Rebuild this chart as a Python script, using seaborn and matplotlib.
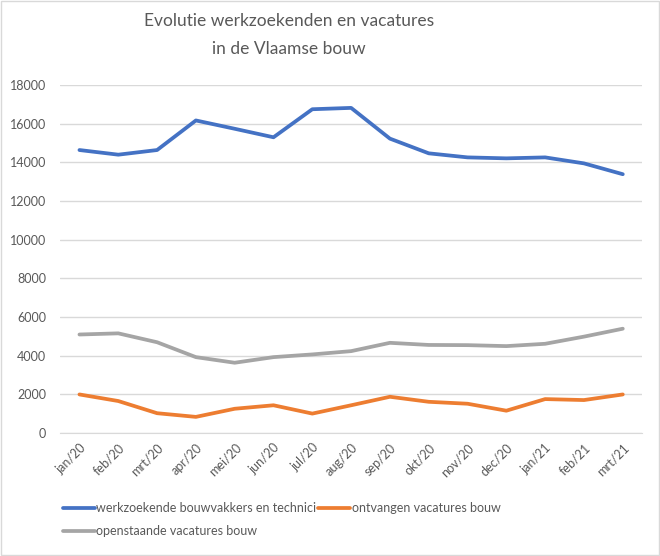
import matplotlib
matplotlib.use("Agg")
import matplotlib.pyplot as plt
import seaborn as sns
import pandas as pd
from matplotlib.patches import Rectangle
from matplotlib.ticker import FixedLocator

months = ["jan/20", "feb/20", "mrt/20", "apr/20", "mei/20", "jun/20", "jul/20",
          "aug/20", "sep/20", "okt/20", "nov/20", "dec/20", "jan/21", "feb/21", "mrt/21"]
werkzoekenden = [14640, 14400, 14640, 16170, 15740, 15300, 16750, 16820, 15230,
                 14470, 14260, 14210, 14260, 13950, 13390]
ontvangen = [2000, 1660, 1030, 840, 1260, 1440, 1010, 1440, 1880, 1620, 1520,
             1160, 1760, 1710, 2000]
openstaande = [5100, 5160, 4700, 3930, 3640, 3930, 4070, 4240, 4670, 4560, 4550,
               4500, 4620, 4990, 5400]
series_names = ["werkzoekende bouwvakkers en technici", "ontvangen vacatures bouw",
                "openstaande vacatures bouw"]
colors = ["#4472C4", "#ED7D31", "#A5A5A5"]
yticks = [0, 2000, 4000, 6000, 8000, 10000, 12000, 14000, 16000, 18000]

rows = []
for name, vals in zip(series_names, [werkzoekenden, ontvangen, openstaande]):
    for m, v in zip(months, vals):
        rows.append({"maand": m, "waarde": v, "reeks": name})
df = pd.DataFrame(rows)
df["x"] = df["maand"].map({m: i for i, m in enumerate(months)})

sns.set_style("white")
plt.rcParams["font.family"] = ["Lato", "DejaVu Sans"]
txt = "#595959"

fig = plt.figure(figsize=(6.6, 5.56), dpi=100)
ax = fig.add_axes([0.091, 0.221, 0.882, 0.626])
sns.lineplot(data=df, x="x", y="waarde", hue="reeks", hue_order=series_names,
             palette=colors, linewidth=2.7, sort=False, ax=ax, legend=False)

ax.set_xlim(-0.5, len(months) - 0.5)
ax.set_ylim(0, 18000)
ax.set_yticks(yticks)
ax.set_yticklabels([str(t) for t in yticks], color=txt, fontsize=9)
ax.set_xticks(range(len(months)))
ax.set_xticklabels(months, rotation=45, ha="right", rotation_mode="anchor",
                   color=txt, fontsize=9)
ax.xaxis.set_minor_locator(FixedLocator([i - 0.5 for i in range(len(months) + 1)]))
ax.tick_params(axis="x", which="major", length=0, pad=6)
ax.tick_params(axis="x", which="minor", length=5, color="#d9d9d9", width=1)
ax.tick_params(axis="y", length=0, pad=10)
ax.grid(axis="y", color="#d9d9d9", linewidth=1)
ax.set_axisbelow(True)
for s in ["top", "right", "left"]:
    ax.spines[s].set_visible(False)
ax.spines["bottom"].set_color("#d9d9d9")
ax.set_xlabel("")
ax.set_ylabel("")

fig.text(0.438, 0.962, "Evolutie werkzoekenden en vacatures", ha="center", va="center",
         fontsize=12.5, color=txt)
fig.text(0.438, 0.912, "in de Vlaamse bouw", ha="center", va="center",
         fontsize=12.5, color=txt)

handles = [plt.Line2D([], [], color=c, linewidth=2.7) for c in colors]
order = [0, 2, 1]
fig.legend([handles[i] for i in order], [series_names[i] for i in order],
           ncol=2, loc="upper left", bbox_to_anchor=(0.095, 0.097), frameon=False,
           fontsize=9, labelcolor=txt, handlelength=2.6, handletextpad=0.1,
           columnspacing=0.1, borderaxespad=0, borderpad=0, labelspacing=0.9)

fig.add_artist(Rectangle((0.001, 0.001), 0.997, 0.997, transform=fig.transFigure,
                         fill=False, edgecolor="#d9d9d9", linewidth=1))

fig.savefig("out.png", dpi=100)
